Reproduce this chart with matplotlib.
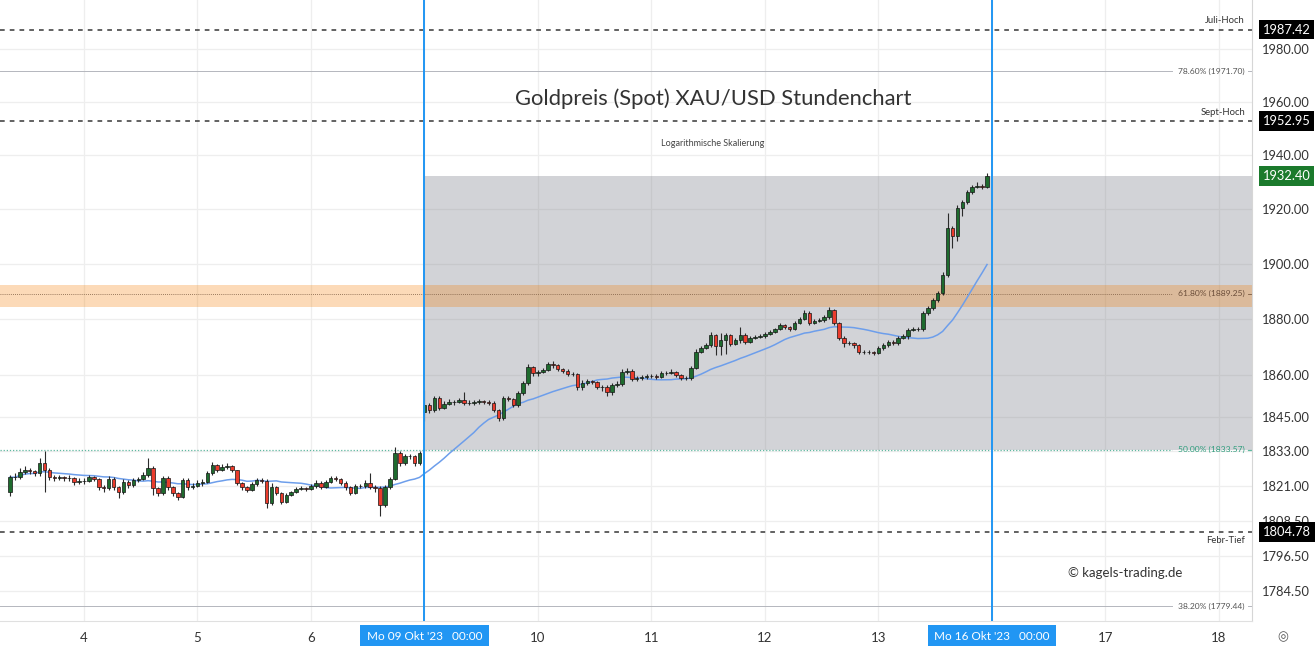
import numpy as np
import pandas as pd
import matplotlib
matplotlib.use("Agg")
import matplotlib.pyplot as plt
import matplotlib.transforms as mtransforms
from matplotlib.ticker import NullLocator, NullFormatter

plt.rcParams['font.family'] = ['Lato', 'DejaVu Sans']

# ---------------- data ----------------
# trading sessions shown (October 2023), hourly candles
session_days = [3, 4, 5, 6, 9, 10, 11, 12, 13]
session_first_hour = [8, 0, 0, 0, 0, 0, 0, 0, 0]
session_bars = [15, 23, 23, 23, 23, 23, 23, 23, 23]
first_open = 1818.7
monday_gap_open = 1846.8   # first open of Oct 9

closes = [
    # Oct 3
    1823.9, 1823.9, 1825.7, 1826.4, 1826.1, 1825.3, 1828.9, 1826.4, 1823.9, 1823.6, 1823.9, 1823.6, 1823.6, 1822.2, 1822.6,
    # Oct 4
    1822.6, 1823.9, 1823.3, 1820.5, 1820.1, 1823.3, 1820.5, 1818.7, 1822.2, 1821.2, 1822.9, 1823.3, 1824.7, 1827.1, 1820.1, 1818.4, 1823.6, 1820.5, 1818.4, 1817.0, 1822.9, 1820.5, 1820.8,
    # Oct 5
    1821.9, 1822.2, 1825.3, 1828.2, 1826.4, 1827.5, 1827.8, 1826.4, 1821.9, 1820.5, 1819.4, 1821.5, 1822.9, 1822.6, 1814.9, 1820.5, 1818.4, 1815.3, 1817.7, 1818.7, 1819.8, 1820.1, 1819.8,
    # Oct 6
    1820.8, 1821.9, 1820.5, 1822.2, 1823.6, 1823.3, 1821.9, 1820.5, 1818.4, 1820.8, 1820.8, 1821.9, 1820.5, 1820.1, 1814.2, 1820.5, 1823.3, 1832.3, 1828.9, 1831.3, 1831.3, 1828.9, 1832.3,
    # Oct 9
    1849.3, 1847.5, 1851.8, 1848.2, 1849.7, 1850.4, 1850.4, 1851.1, 1850.0, 1850.0, 1850.4, 1850.7, 1850.4, 1850.0, 1847.5, 1844.7, 1851.8, 1851.4, 1849.3, 1853.5, 1857.1, 1862.8, 1860.7,
    # Oct 10
    1861.1, 1861.8, 1863.9, 1863.5, 1862.1, 1861.4, 1860.4, 1860.4, 1855.7, 1857.1, 1857.8, 1857.5, 1855.7, 1855.7, 1853.9, 1856.4, 1856.8, 1861.1, 1861.4, 1858.5, 1858.9, 1859.3, 1859.6,
    # Oct 11
    1859.6, 1859.3, 1860.7, 1860.7, 1861.1, 1860.0, 1858.9, 1858.9, 1862.5, 1868.2, 1869.6, 1870.7, 1874.3, 1870.3, 1872.5, 1874.3, 1871.1, 1872.5, 1874.3, 1871.8, 1873.2, 1873.6, 1873.9,
    # Oct 12
    1874.6, 1875.4, 1876.4, 1877.9, 1877.2, 1876.4, 1878.6, 1880.0, 1882.2, 1878.6, 1879.3, 1879.7, 1880.8, 1883.3, 1878.6, 1873.2, 1871.4, 1871.4, 1870.7, 1868.2, 1868.2, 1868.2, 1867.8,
    # Oct 13
    1869.6, 1870.7, 1871.8, 1871.4, 1873.2, 1873.9, 1876.1, 1876.4, 1876.4, 1882.2, 1884.0, 1886.9, 1889.5, 1896.0, 1913.2, 1910.2, 1920.5, 1922.7, 1926.4, 1928.3, 1928.7, 1928.3, 1932.4,
]
highs = [
    1824.8, 1825.5, 1827.0, 1827.8, 1827.0, 1826.5, 1830.5, 1833.2, 1827.0, 1824.8, 1824.8, 1824.5, 1824.6, 1824.0, 1823.5,
    1823.5, 1824.8, 1824.5, 1823.8, 1821.2, 1824.2, 1824.0, 1821.0, 1823.2, 1823.0, 1823.8, 1824.0, 1825.8, 1830.6, 1828.0, 1820.5, 1824.5, 1824.2, 1821.0, 1818.8, 1823.8, 1823.5, 1821.8,
    1822.8, 1823.2, 1826.2, 1829.2, 1828.6, 1828.4, 1829.0, 1828.2, 1826.6, 1822.4, 1820.8, 1822.2, 1823.8, 1823.6, 1823.3, 1821.8, 1820.8, 1818.8, 1818.4, 1819.2, 1820.5, 1820.8, 1820.6,
    1821.5, 1822.8, 1822.6, 1823.0, 1824.5, 1824.2, 1823.8, 1822.5, 1821.0, 1821.6, 1821.6, 1822.8, 1825.3, 1821.3, 1821.0, 1821.2, 1824.0, 1834.4, 1833.0, 1832.0, 1832.2, 1831.8, 1833.0,
    1854.6, 1850.2, 1852.6, 1852.4, 1850.6, 1851.3, 1851.2, 1852.0, 1853.9, 1851.0, 1851.0, 1851.5, 1851.2, 1851.0, 1850.8, 1848.0, 1852.6, 1852.5, 1852.0, 1854.4, 1858.0, 1863.8, 1863.4,
    1861.8, 1862.6, 1864.8, 1865.0, 1864.0, 1862.6, 1862.0, 1861.2, 1860.8, 1858.2, 1858.6, 1858.4, 1858.0, 1856.6, 1856.4, 1857.2, 1857.8, 1862.0, 1862.6, 1862.2, 1859.6, 1860.0, 1860.3,
    1860.4, 1860.2, 1861.5, 1861.6, 1862.0, 1861.5, 1860.4, 1859.8, 1863.4, 1869.2, 1870.4, 1871.6, 1875.4, 1874.8, 1875.2, 1875.0, 1874.8, 1873.2, 1877.2, 1874.9, 1873.9, 1874.3, 1874.6,
    1875.3, 1876.0, 1877.0, 1878.6, 1878.2, 1877.6, 1879.2, 1880.7, 1883.2, 1882.8, 1880.2, 1880.4, 1881.6, 1884.4, 1883.8, 1879.0, 1873.8, 1872.2, 1871.8, 1871.0, 1868.9, 1868.9, 1868.6,
    1870.4, 1871.5, 1872.6, 1872.5, 1874.0, 1874.6, 1876.9, 1877.2, 1877.3, 1882.9, 1884.8, 1887.8, 1890.2, 1897.2, 1918.8, 1914.0, 1921.6, 1923.6, 1927.2, 1929.2, 1930.0, 1929.4, 1933.3,
]
lows = [
    1817.5, 1822.8, 1823.2, 1825.0, 1825.2, 1824.2, 1824.5, 1818.7, 1822.8, 1822.5, 1822.8, 1822.6, 1822.5, 1821.2, 1821.6,
    1821.6, 1822.2, 1822.5, 1819.5, 1818.8, 1819.5, 1819.6, 1816.7, 1818.2, 1820.2, 1820.6, 1822.3, 1822.8, 1824.0, 1817.7, 1817.2, 1817.8, 1819.5, 1817.5, 1815.8, 1816.5, 1819.6, 1819.8,
    1820.4, 1821.0, 1821.8, 1824.8, 1825.6, 1826.0, 1826.8, 1825.8, 1821.2, 1819.6, 1818.6, 1819.0, 1821.0, 1821.8, 1813.2, 1814.2, 1817.6, 1814.6, 1814.8, 1817.3, 1818.5, 1819.3, 1819.0,
    1819.3, 1820.3, 1819.8, 1820.0, 1821.8, 1822.5, 1821.2, 1819.4, 1817.8, 1818.0, 1820.0, 1820.2, 1819.8, 1818.9, 1810.4, 1813.5, 1819.8, 1822.8, 1827.8, 1828.2, 1830.2, 1828.0, 1828.3,
    1843.5, 1846.6, 1847.0, 1847.4, 1847.8, 1849.2, 1849.5, 1850.0, 1849.3, 1849.2, 1849.4, 1849.8, 1849.6, 1849.2, 1846.8, 1843.6, 1844.2, 1850.6, 1848.5, 1848.8, 1852.8, 1856.5, 1859.8,
    1859.8, 1860.6, 1861.3, 1862.6, 1861.5, 1860.8, 1859.8, 1859.6, 1854.8, 1854.8, 1856.6, 1856.8, 1855.0, 1854.2, 1852.6, 1853.0, 1855.8, 1856.2, 1860.4, 1857.8, 1858.0, 1858.4, 1858.7,
    1858.8, 1858.6, 1858.8, 1860.0, 1860.2, 1859.4, 1858.2, 1858.1, 1858.4, 1862.0, 1867.8, 1869.3, 1870.2, 1867.1, 1867.1, 1867.6, 1870.4, 1870.6, 1871.6, 1871.0, 1871.4, 1872.8, 1873.1,
    1873.4, 1874.2, 1875.0, 1876.0, 1876.5, 1875.8, 1876.0, 1878.2, 1879.6, 1877.8, 1878.2, 1878.9, 1879.1, 1880.2, 1877.9, 1872.4, 1870.2, 1870.6, 1869.8, 1867.6, 1867.5, 1867.4, 1867.2,
    1867.4, 1869.0, 1870.2, 1870.6, 1870.8, 1872.9, 1873.0, 1875.6, 1875.6, 1875.8, 1881.6, 1883.4, 1886.2, 1888.8, 1895.2, 1905.9, 1908.5, 1917.6, 1922.0, 1925.8, 1927.8, 1927.6, 1927.9,
]
ma_length = 20

axis_day_labels = ['4', '5', '6', '9', '10', '11', '12', '13', '16', '17', '18']
marker_labels = {3: "Mo 09 Okt '23   00:00", 8: "Mo 16 Okt '23   00:00"}

y_ticks = [1980, 1960, 1940, 1920, 1900, 1880, 1860, 1845, 1833, 1821, 1808.5, 1796.5, 1784.5]

juli_hoch = 1987.42
sept_hoch = 1952.95
febr_tief = 1804.78
last_price = 1932.40
fib_levels = [('78.60%', 1971.70), ('61.80%', 1889.25), ('50.00%', 1833.57), ('38.20%', 1779.44)]
fib_618_zone = (1884.5, 1892.5)
range_low, range_high = 1833.57, 1932.40

# ---------------- build candles ----------------
xs, opens = [], []
prev = first_open
idx = 0
for k, (fh, nb) in enumerate(zip(session_first_hour, session_bars)):
    dpos = k - 1                      # trading-day position (Oct 4 = 0)
    for h in range(nb):
        xs.append(dpos + (fh + h) / 23.0)
        if k == 4 and h == 0:
            opens.append(monday_gap_open)
        else:
            opens.append(prev)
        prev = closes[idx]
        idx += 1
xs = np.array(xs)
o = np.array(opens)
c = np.array(closes)
hi = np.maximum(np.array(highs), np.maximum(o, c))
lo = np.minimum(np.array(lows), np.minimum(o, c))
ma = pd.Series(c).rolling(ma_length, min_periods=1).mean().values

# ---------------- figure ----------------
W, H = 1316, 646
fig = plt.figure(figsize=(W / 100, H / 100), dpi=100)
fig.patch.set_facecolor('white')
ax = fig.add_axes([0, 25 / H, 1252 / W, 621 / H])
ax.set_yscale('log')
ax.set_xlim(-0.740, 10.291)
ax.set_ylim(1774.3, 1998.7)

ax.yaxis.set_minor_locator(NullLocator())
ax.yaxis.set_minor_formatter(NullFormatter())
ax.set_yticks(y_ticks)
ax.set_yticklabels([f'{v:.2f}' for v in y_ticks])
ax.yaxis.tick_right()
ax.tick_params(axis='y', length=0, pad=7, labelsize=9.3, labelcolor='#333333')

ax.set_xticks(range(len(axis_day_labels)))
ax.set_xticklabels([('' if i in marker_labels else lab) for i, lab in enumerate(axis_day_labels)])
ax.tick_params(axis='x', length=0, pad=8, labelsize=9.5, labelcolor='#333333')

ax.grid(True, color='#eeeeee', lw=0.9)
ax.set_axisbelow(True)
for s in ['top', 'left']:
    ax.spines[s].set_visible(False)
ax.spines['right'].set_color('#d6d6d6')
ax.spines['bottom'].set_color('#e0e0e0')

blend = mtransforms.blended_transform_factory(ax.transAxes, ax.transData)

# grey range box
ax.fill_between([3, 10.3], range_low, range_high, color=(120/255, 123/255, 134/255, 0.33),
                lw=0, zorder=1)
# 61.8% zone
ax.axhspan(fib_618_zone[0], fib_618_zone[1], color=(245/255, 124/255, 0, 0.28), lw=0, zorder=1.2)

# fib lines
fib_styles = {
    '78.60%': dict(color='#b4b6bd', ls='-', lw=0.7, tc='#555555'),
    '61.80%': dict(color='#7a5a40', ls=(0, (1, 1.5)), lw=0.6, tc='#6b4e3a'),
    '50.00%': dict(color='#5fb8a0', ls=(0, (1, 1.5)), lw=0.9, tc='#2e9c7c'),
    '38.20%': dict(color='#b4b6bd', ls='-', lw=0.7, tc='#555555'),
}
for name, lvl in fib_levels:
    st = fib_styles[name]
    ax.axhline(lvl, xmin=0, xmax=1172 / 1252, color=st['color'], ls=st['ls'], lw=st['lw'], zorder=1.5)
    ax.axhline(lvl, xmin=1248 / 1252, xmax=1, color=st['color'], ls='-', lw=st['lw'], zorder=1.5)
    ax.text(1245 / 1252, lvl, f'{name} ({lvl:.2f})', transform=blend, ha='right', va='center',
            fontsize=6.1, color=st['tc'], zorder=6)

# dashed key levels
for lvl in (juli_hoch, sept_hoch, febr_tief):
    ax.axhline(lvl, color='#555555', lw=1.3, ls=(0, (2.6, 2.8)), zorder=2)
ax.annotate('Juli-Hoch', xy=(1245 / 1252, juli_hoch), xycoords=blend, xytext=(0, 3),
            textcoords='offset points', ha='right', va='bottom', fontsize=6.8, color='#333333')
ax.annotate('Sept-Hoch', xy=(1245 / 1252, sept_hoch), xycoords=blend, xytext=(0, 3),
            textcoords='offset points', ha='right', va='bottom', fontsize=6.8, color='#333333')
ax.annotate('Febr-Tief', xy=(1245 / 1252, febr_tief), xycoords=blend, xytext=(0, -3),
            textcoords='offset points', ha='right', va='top', fontsize=6.8, color='#333333')

# vertical session markers
for pos in marker_labels:
    ax.axvline(pos, color='#2196f3', lw=1.4, zorder=5)

# moving average
ax.plot(xs, ma, color='#6d9eeb', lw=1.1, zorder=2.5)

# candles
up = c >= o
ax.vlines(xs, lo, hi, color='#2a2a2a', lw=0.8, zorder=3)
body_bottom = np.minimum(o, c)
body_h = np.maximum(np.abs(c - o), 0.05)
ax.bar(xs, body_h, bottom=body_bottom, width=0.031,
       color=np.where(up, '#1e6b2e', '#ea3b2c'), edgecolor='#151515', linewidth=0.5, zorder=4)

# price labels on the right axis
for lvl, fc in ((juli_hoch, '#000000'), (sept_hoch, '#000000'), (last_price, '#1b7a2c'), (febr_tief, '#000000')):
    ax.text(1.0085, lvl, f'{lvl:.2f}', transform=blend, ha='left', va='center', fontsize=9.3,
            color='white', clip_on=False, zorder=10,
            bbox=dict(boxstyle='square,pad=0.3', fc=fc, ec='none'))

# bottom marker labels
xblend = mtransforms.blended_transform_factory(ax.transData, ax.transAxes)
for pos, lab in marker_labels.items():
    ax.text(pos, -16 / 621, lab, transform=xblend, ha='center', va='center', fontsize=8.5,
            color='white', clip_on=False, zorder=10,
            bbox=dict(boxstyle='square,pad=0.55', fc='#2196f3', ec='none'))

# settings icon
fig.text(1283 / W, 1 - 637 / H, '\u25CE', ha='center', va='center', fontsize=9, color='#555555',
         family=['DejaVu Sans'])

# titles and watermark
ax.text(713 / 1252, 1 - 99 / 621, 'Goldpreis (Spot) XAU/USD Stundenchart', transform=ax.transAxes,
        ha='center', va='center', fontsize=15.8, color='#333333', zorder=6)
ax.text(713 / 1252, 1 - 143 / 621, 'Logarithmische Skalierung', transform=ax.transAxes,
        ha='center', va='center', fontsize=6.5, color='#444444', zorder=6)
ax.text(1068 / 1252, 1 - 573 / 621, '\u00A9 kagels-trading.de', transform=ax.transAxes,
        ha='left', va='center', fontsize=9.5, color='#333333', zorder=6)

fig.savefig('out.png', dpi=100, facecolor='white')
